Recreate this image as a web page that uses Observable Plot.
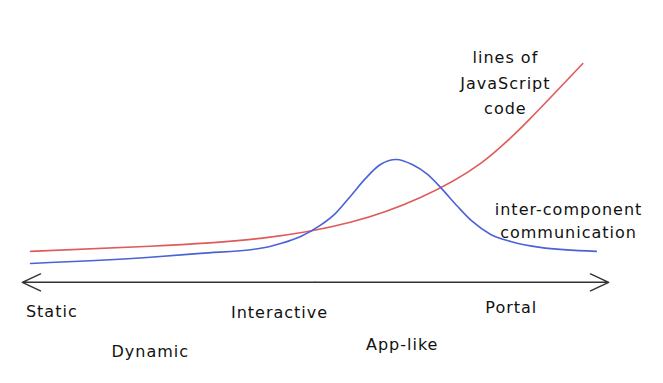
<!DOCTYPE html>
<html><head><meta charset="utf-8">
<script src="https://cdn.jsdelivr.net/npm/d3@7"></script>
<script src="https://cdn.jsdelivr.net/npm/@observablehq/plot@0.6"></script>
<style>body{margin:0;background:#fff}</style>
</head><body><div id="chart"></div>
<script>
// Red curve: lines of JavaScript code
const jsX = [1.7, 22.0, 40.7, 55.9, 67.8, 78.0, 86.4, 95.3];
const jsY = [14.1, 16.4, 20.0, 27.3, 38.6, 54.1, 74.5, 99.5];
// Blue curve: inter-component communication
const commX = [1.7, 22.0, 30.5, 40.7, 44.1, 47.5, 50.8, 53.4, 55.9, 58.5, 61.0, 63.7, 66.4, 69.0, 71.5, 74.1, 76.6, 79.7, 83.1, 88.1, 97.6];
const commY = [8.6, 11.4, 13.2, 15.5, 17.7, 20.9, 25.9, 31.4, 39.1, 47.3, 53.6, 55.9, 53.6, 49.1, 42.3, 34.5, 27.7, 21.8, 18.6, 15.9, 14.1];
// Stage labels along the axis
const stages = ["Static", "Dynamic", "Interactive", "App-like", "Portal"];
const stageX = [5.3, 22.0, 43.9, 64.7, 83.2];
const stageY = [-13.6, -31.8, -14.1, -28.6, -11.8];
// Series labels
const seriesLabels = ["lines of\nJavaScript\ncode", "inter-component\ncommunication"];
const seriesLabelX = [82.2, 92.9];
const seriesLabelY = [91.8, 28.6];
const seriesLineHeight = [1.6, 1.4];

const js = jsX.map((x, i) => ({x, y: jsY[i]}));
const comm = commX.map((x, i) => ({x, y: commY[i]}));
const stageData = stages.map((s, i) => ({label: s, x: stageX[i], y: stageY[i]}));
const font = "DejaVu Sans";

const chart = Plot.plot({
  width: 663,
  height: 383,
  margin: 0,
  x: {domain: [-3.4, 109], axis: null},
  y: {domain: [-46, 128.2], axis: null},
  style: {background: "#fff", letterSpacing: "1px"},
  marks: [
    Plot.arrow([{x1: 50, x2: 0.3, y1: 0, y2: 0}, {x1: 50, x2: 99.7, y1: 0, y2: 0}], {
      x1: "x1", x2: "x2", y1: "y1", y2: "y2",
      stroke: "#333", strokeWidth: 1.5, headAngle: 50, headLength: 20
    }),
    Plot.line(js, {x: "x", y: "y", curve: "natural", stroke: "#e05a5a", strokeWidth: 1.6}),
    Plot.line(comm, {x: "x", y: "y", curve: "monotone-x", stroke: "#4a62d8", strokeWidth: 1.6}),
    Plot.text(stageData, {x: "x", y: "y", text: "label", fontFamily: font, fontSize: 16, fill: "#111"}),
    ...seriesLabels.map((s, i) => Plot.text([s], {
      x: [seriesLabelX[i]], y: [seriesLabelY[i]], text: (d) => d,
      fontFamily: font, fontSize: 16, lineHeight: seriesLineHeight[i], fill: "#111"
    }))
  ]
});
document.getElementById("chart").append(chart);
</script>
</body></html>
